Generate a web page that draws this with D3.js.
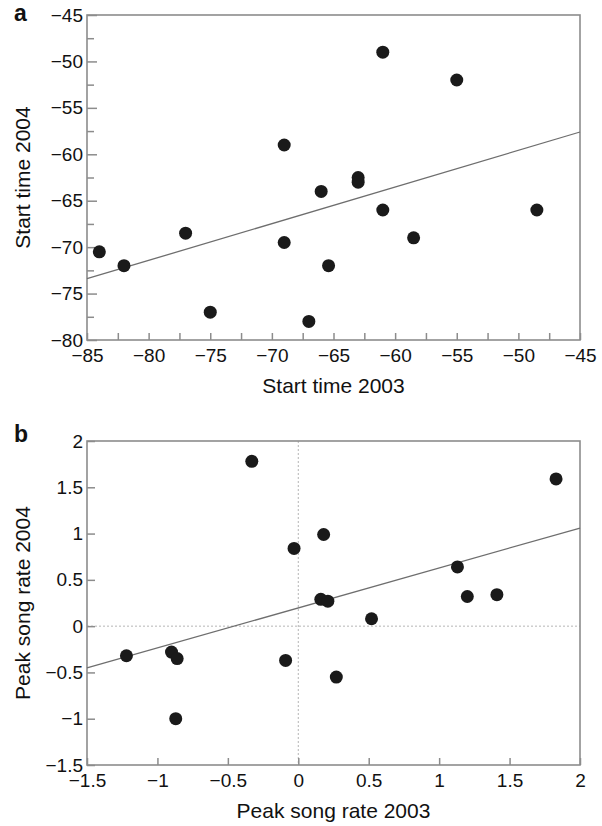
<!DOCTYPE html>
<html lang="en">
<head>
    <meta charset="UTF-8">
    <title>Start time and peak song rate, 2003 vs 2004</title>
    <script src="https://cdn.jsdelivr.net/npm/d3@7"></script>
    <style>
        body {
            margin: 0;
            background: #fff;
        }

        svg text {
            font-family: "Liberation Sans", Arial, Helvetica, sans-serif;
            fill: #111;
        }
    </style>
</head>

<body>
    <svg id="chart" width="602" height="826"></svg>

    <script>
        // panel a - start time
        let startX2003 = [-84, -82, -77, -75, -69, -69, -67, -66, -65.4, -63, -63, -61, -61, -58.5, -55, -48.5];
        let startY2004 = [-70.5, -72, -68.5, -77, -59, -69.5, -78, -64, -72, -62.5, -63, -49, -66, -69, -52, -66];
        let startFit = [[-85, -73.4], [-45, -57.6]];
        let startTicks = [-85, -80, -75, -70, -65, -60, -55, -50, -45];
        let startYTicks = [-80, -75, -70, -65, -60, -55, -50, -45];

        // panel b - peak song rate
        let peakX2003 = [-0.33, -0.03, 1.83, 0.18, 1.13, 1.2, 1.41, 0.16, 0.21, 0.52, 0.27, -1.22, -0.9, -0.86, -0.87, -0.09];
        let peakY2004 = [1.78, 0.84, 1.59, 0.99, 0.64, 0.32, 0.34, 0.29, 0.27, 0.08, -0.55, -0.32, -0.28, -0.35, -1.0, -0.37];
        let peakFit = [[-1.5, -0.45], [2, 1.06]];
        let peakTicks = [-1.5, -1, -0.5, 0, 0.5, 1, 1.5, 2];

        let svg = d3.select("#chart");
        let fmt = d3.format("~g");

        function panel(cfg) {
            let g = svg.append("g");
            let x = d3.scaleLinear().domain(cfg.xDomain).range([cfg.left, cfg.right]);
            let y = d3.scaleLinear().domain(cfg.yDomain).range([cfg.bottom, cfg.top]);

            // zero reference lines
            if (cfg.zeroLines) {
                g.append("line")
                    .attr("x1", x(0)).attr("x2", x(0))
                    .attr("y1", cfg.top).attr("y2", cfg.bottom)
                    .attr("stroke", "#b5b5b5").attr("stroke-width", 1)
                    .attr("stroke-dasharray", "2,2");
                g.append("line")
                    .attr("x1", cfg.left).attr("x2", cfg.right)
                    .attr("y1", y(0)).attr("y2", y(0))
                    .attr("stroke", "#b5b5b5").attr("stroke-width", 1)
                    .attr("stroke-dasharray", "2,2");
            }

            // minor ticks
            if (cfg.xMinor) {
                g.append("g")
                    .attr("transform", `translate(0,${cfg.bottom})`)
                    .call(d3.axisBottom(x).tickValues(cfg.xMinor).tickSize(-7).tickFormat(""))
                    .call(a => a.select(".domain").remove());
            }
            if (cfg.yMinor) {
                g.append("g")
                    .attr("transform", `translate(${cfg.left},0)`)
                    .call(d3.axisLeft(y).tickValues(cfg.yMinor).tickSize(-7).tickFormat(""))
                    .call(a => a.select(".domain").remove());
            }

            // major axes
            g.append("g")
                .attr("class", "xaxis")
                .attr("transform", `translate(0,${cfg.bottom})`)
                .call(d3.axisBottom(x).tickValues(cfg.xTicks).tickSize(-7).tickPadding(9).tickFormat(fmt))
                .call(a => a.select(".domain").remove());
            g.append("g")
                .attr("class", "yaxis")
                .attr("transform", `translate(${cfg.left},0)`)
                .call(d3.axisLeft(y).tickValues(cfg.yTicks).tickSize(-cfg.yTickLen).tickPadding(4).tickFormat(fmt))
                .call(a => a.select(".domain").remove());

            g.selectAll(".tick line").attr("stroke", "#8c8c8c").attr("stroke-width", 1.5);
            g.selectAll(".tick text")
                .attr("font-size", 19)
                .style("font-family", "'Liberation Sans', Arial, sans-serif")
                .attr("fill", "#111");

            // frame
            g.append("rect")
                .attr("x", cfg.left).attr("y", cfg.top)
                .attr("width", cfg.right - cfg.left).attr("height", cfg.bottom - cfg.top)
                .attr("fill", "none").attr("stroke", "#8c8c8c").attr("stroke-width", 1.6);

            // regression line
            g.append("line")
                .attr("x1", x(cfg.fit[0][0])).attr("y1", y(cfg.fit[0][1]))
                .attr("x2", x(cfg.fit[1][0])).attr("y2", y(cfg.fit[1][1]))
                .attr("stroke", "#6e6e6e").attr("stroke-width", 1.3);

            // points
            g.selectAll("circle.pt")
                .data(d3.zip(cfg.xs, cfg.ys))
                .join("circle")
                .attr("class", "pt")
                .attr("cx", d => x(d[0]))
                .attr("cy", d => y(d[1]))
                .attr("r", 6.5)
                .attr("fill", "#1a1a1a");

            // titles
            g.append("text")
                .attr("x", (cfg.left + cfg.right) / 2)
                .attr("y", cfg.bottom + 53)
                .attr("text-anchor", "middle")
                .attr("font-size", 21)
                .text(cfg.xLabel);
            g.append("text")
                .attr("transform", `translate(30,${(cfg.top + cfg.bottom) / 2}) rotate(-90)`)
                .attr("text-anchor", "middle")
                .attr("font-size", 21)
                .text(cfg.yLabel);

            // panel letter
            g.append("text")
                .attr("x", 14)
                .attr("y", cfg.top + cfg.letterDy)
                .attr("font-size", 23)
                .attr("font-weight", "bold")
                .text(cfg.letter);
        }

        panel({
            letter: "a", letterDy: 6,
            left: 87, right: 580, top: 15, bottom: 340,
            xDomain: [-85, -45], yDomain: [-80, -45],
            xTicks: startTicks, yTicks: startYTicks,
            xMinor: d3.range(-82.5, -45, 5), yMinor: d3.range(-77.5, -45, 5),
            yTickLen: 10,
            xs: startX2003, ys: startY2004, fit: startFit,
            xLabel: "Start time 2003", yLabel: "Start time 2004"
        });

        panel({
            letter: "b", letterDy: 1,
            left: 87, right: 580, top: 441, bottom: 765,
            xDomain: [-1.5, 2], yDomain: [-1.5, 2],
            xTicks: peakTicks, yTicks: peakTicks,
            yTickLen: 8,
            zeroLines: true,
            xs: peakX2003, ys: peakY2004, fit: peakFit,
            xLabel: "Peak song rate 2003", yLabel: "Peak song rate 2004"
        });
    </script>
</body>
</html>
